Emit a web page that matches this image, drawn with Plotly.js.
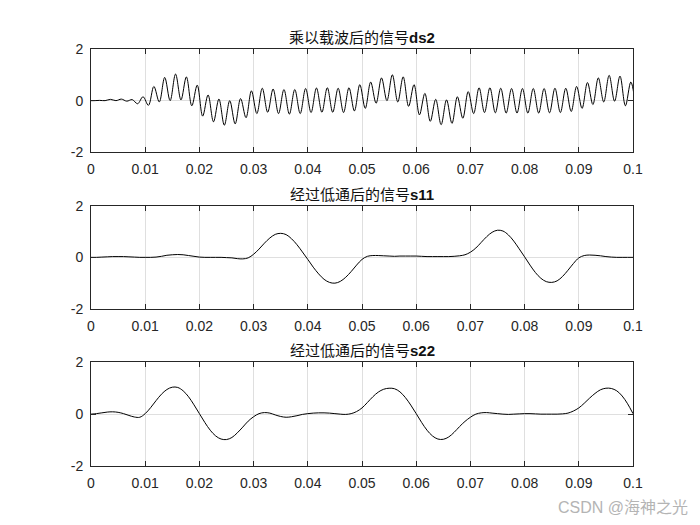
<!DOCTYPE html>
<html>
<head>
<meta charset="utf-8">
<script src="https://cdn.plot.ly/plotly-3.0.1.min.js"></script>
<style>html,body{margin:0;padding:0;background:#fff;}#chart{width:700px;height:525px;}</style>
</head>
<body>
<div id="chart"></div>
<script>
// ---- data ----
// x tick labels
const xTickVals = [0, 0.01, 0.02, 0.03, 0.04, 0.05, 0.06, 0.07, 0.08, 0.09, 0.1];
const xTickText = ['0', '0.01', '0.02', '0.03', '0.04', '0.05', '0.06', '0.07', '0.08', '0.09', '0.1'];
const yTickVals = [-2, 0, 2];
const yTickText = ['-2', '0', '2'];
const titles = ['乘以载波后的信号<b>ds2</b>', '经过低通后的信号<b>s11</b>', '经过低通后的信号<b>s22</b>'];

// ds2: successive extremes (trough / peak) of the carrier, sampled every 0.001 s starting at t = -0.0004
const ds2Start = -0.0004;
const ds2Step = 0.001;
const ds2 = [
  0.00,
  0.00, 0.01, 0.00, 0.05, 0.00, 0.06, -0.02, 0.04, -0.12, 0.15,
  -0.18, 0.55, -0.05, 0.90, 0.00, 1.03, 0.03, 0.92, -0.20, 0.60,
  -0.60, 0.22, -0.82, 0.06, -0.95, 0.00, -0.90, 0.08, -0.66, 0.38,
  -0.50, 0.48, -0.45, 0.45, -0.50, 0.43, -0.52, 0.43, -0.50, 0.47,
  -0.46, 0.49, -0.45, 0.50, -0.45, 0.48, -0.46, 0.50, -0.40, 0.62,
  -0.30, 0.72, -0.10, 0.88, 0.00, 1.00, -0.05, 0.92, -0.22, 0.62,
  -0.55, 0.28, -0.80, 0.05, -0.93, 0.03, -0.88, 0.15, -0.68, 0.35,
  -0.50, 0.50, -0.46, 0.50, -0.47, 0.48, -0.48, 0.47, -0.48, 0.47,
  -0.48, 0.47, -0.48, 0.47, -0.47, 0.48, -0.46, 0.48, -0.42, 0.55,
  -0.30, 0.70, -0.15, 0.88, -0.05, 0.98, -0.02, 0.95, -0.20, 0.72,
  -0.45
];

// s11 and s22 sampled every 0.001 s from t = 0
const sStep = 0.001;
const s11 = [
  0.00, 0.00, 0.01, 0.02, 0.03, 0.03, 0.03, 0.02, 0.01, 0.00,
  0.00, 0.00, 0.01, 0.04, 0.08, 0.10, 0.11, 0.10, 0.07, 0.04,
  0.01, 0.00, 0.00, 0.00, 0.00, -0.01, -0.02, -0.05, -0.06, -0.02,
  0.12, 0.32, 0.55, 0.75, 0.89, 0.93, 0.88, 0.72, 0.49, 0.21,
  -0.08, -0.38, -0.64, -0.85, -0.97, -1.00, -0.93, -0.77, -0.55, -0.30,
  -0.08, 0.04, 0.07, 0.07, 0.06, 0.05, 0.04, 0.05, 0.05, 0.05,
  0.05, 0.04, 0.03, 0.03, 0.03, 0.03, 0.03, 0.04, 0.06, 0.10,
  0.20, 0.36, 0.58, 0.80, 0.97, 1.05, 1.02, 0.87, 0.63, 0.33,
  0.02, -0.30, -0.59, -0.81, -0.94, -0.97, -0.91, -0.74, -0.50, -0.24,
  -0.02, 0.07, 0.09, 0.08, 0.06, 0.03, 0.01, 0.00, 0.00, 0.00,
  0.00
];
const s22 = [
  0.00, 0.02, 0.05, 0.08, 0.09, 0.07, 0.02, -0.05, -0.11, -0.12,
  0.02, 0.25, 0.52, 0.77, 0.95, 1.04, 1.03, 0.90, 0.67, 0.36,
  0.02, -0.32, -0.62, -0.84, -0.96, -0.98, -0.90, -0.72, -0.50, -0.27,
  -0.10, 0.02, 0.06, 0.04, -0.03, -0.09, -0.12, -0.10, -0.06, -0.01,
  0.02, 0.04, 0.05, 0.05, 0.04, 0.02, 0.00, -0.01, 0.02, 0.10,
  0.24, 0.45, 0.67, 0.85, 0.96, 1.00, 0.98, 0.86, 0.64, 0.35,
  0.02, -0.32, -0.62, -0.84, -0.96, -0.97, -0.88, -0.70, -0.48, -0.28,
  -0.12, 0.00, 0.05, 0.06, 0.04, 0.02, 0.00, -0.01, 0.00, 0.01,
  0.02, 0.02, 0.01, 0.00, 0.00, 0.00, 0.00, 0.01, 0.04, 0.12,
  0.24, 0.42, 0.62, 0.80, 0.94, 1.00, 0.99, 0.90, 0.70, 0.40,
  0.02
];

// ---- figure ----
const W = 700, H = 525;
const left = 91, right = 633;
const frames = [[49, 152.3], [205.7, 309], [362.3, 466]]; // top, bottom in px
const axColor = '#262626';
const tickFont = {family: 'Liberation Sans, Arial, sans-serif', size: 14, color: axColor};

const lineStyle = {color: '#000000', width: 1, shape: 'spline', smoothing: 1};
const traces = [
  {x0: ds2Start, dx: ds2Step, y: ds2, type: 'scatter', mode: 'lines', line: lineStyle, xaxis: 'x', yaxis: 'y', hoverinfo: 'skip'},
  {x0: 0, dx: sStep, y: s11, type: 'scatter', mode: 'lines', line: lineStyle, xaxis: 'x2', yaxis: 'y2', hoverinfo: 'skip'},
  {x0: 0, dx: sStep, y: s22, type: 'scatter', mode: 'lines', line: lineStyle, xaxis: 'x3', yaxis: 'y3', hoverinfo: 'skip'}
];

function xAxis(i) {
  return {
    domain: [left / W, right / W], anchor: 'y' + (i === 0 ? '' : i + 1),
    range: [0, 0.1], tickvals: xTickVals, ticktext: xTickText,
    ticks: 'inside', ticklen: 5, tickcolor: axColor, tickwidth: 1,
    showline: true, linecolor: axColor, linewidth: 1, mirror: 'ticks',
    showgrid: true, gridcolor: '#dfdfdf', gridwidth: 1, zeroline: false,
    tickfont: tickFont, ticklabelstandoff: 4, fixedrange: true
  };
}
function yAxis(i) {
  const f = frames[i];
  return {
    domain: [(H - f[1]) / H, (H - f[0]) / H], anchor: 'x' + (i === 0 ? '' : i + 1),
    range: [-2, 2], tickvals: yTickVals, ticktext: yTickText,
    ticks: 'inside', ticklen: 5, tickcolor: axColor, tickwidth: 1,
    showline: true, linecolor: axColor, linewidth: 1, mirror: 'ticks',
    showgrid: true, gridcolor: '#dfdfdf', gridwidth: 1, zeroline: false,
    tickfont: tickFont, ticklabelstandoff: 4, fixedrange: true
  };
}

const annotations = titles.map((txt, i) => ({
  text: txt, xref: 'paper', yref: 'paper',
  x: (left + right) / 2 / W, y: (H - frames[i][0]) / H,
  xanchor: 'center', yanchor: 'bottom', yshift: 1, showarrow: false,
  font: {family: 'Liberation Sans, Noto Sans CJK SC, sans-serif', size: 15, color: '#111111'}
}));
annotations.push({
  text: 'CSDN @海神之光', xref: 'paper', yref: 'paper',
  x: 690 / W, y: (H - 507) / H, xanchor: 'right', yanchor: 'middle', showarrow: false,
  font: {family: 'Liberation Sans, Noto Sans CJK SC, sans-serif', size: 16, color: '#b4b4b4'}
});

const layout = {
  width: W, height: H, margin: {l: 0, r: 0, t: 0, b: 0},
  paper_bgcolor: '#ffffff', plot_bgcolor: '#ffffff', showlegend: false,
  xaxis: xAxis(0), xaxis2: xAxis(1), xaxis3: xAxis(2),
  yaxis: yAxis(0), yaxis2: yAxis(1), yaxis3: yAxis(2),
  annotations: annotations
};

Plotly.newPlot('chart', traces, layout, {staticPlot: true, displayModeBar: false});
</script>
</body>
</html>
